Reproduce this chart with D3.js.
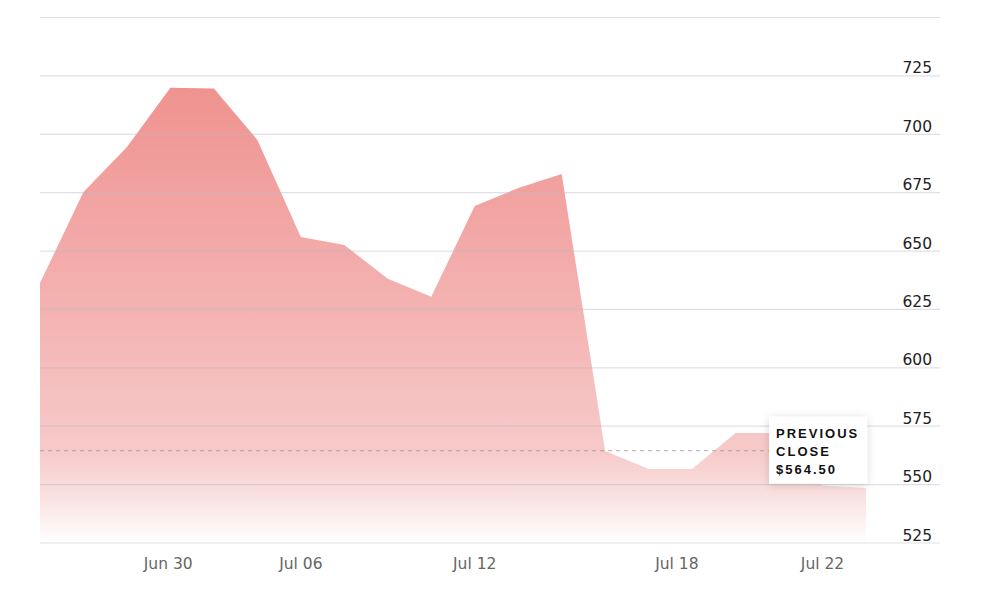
<!DOCTYPE html>
<html>
<head>
<meta charset="utf-8">
<script src="https://cdn.jsdelivr.net/npm/d3@7"></script>
<style>
  body { margin: 0; background: #fff; }
  .ylab { font-family: "DejaVu Sans", sans-serif; font-size: 15.5px; fill: #222; }
  .xlab { font-family: "DejaVu Sans", sans-serif; font-size: 15.5px; fill: #666; }
  .tip { font-family: "Liberation Sans", Arial, sans-serif; font-size: 13px; font-weight: bold; letter-spacing: 2px; fill: #111; }
</style>
</head>
<body>
<div id="chart"></div>
<script>
// closing prices, one per session
var prices = [636.3, 675.3, 694.6, 719.9, 719.6, 697.6, 656.0, 652.6, 638.1, 630.4,
              669.3, 677.0, 683.0, 564.4, 556.7, 556.7, 572.1, 572.1, 549.6, 548.6];

// x tick labels and where they sit (in session index)
var tickLabels = ["Jun 30", "Jul 06", "Jul 12", "Jul 18", "Jul 22"];
var tickIndex = [2.95, 6, 10, 14.65, 18];

// y gridlines / labels
var yTicks = [525, 550, 575, 600, 625, 650, 675, 700, 725, 750];
var yLabelled = [525, 550, 575, 600, 625, 650, 675, 700, 725];

var prevClose = 564.50;
var tipLines = ["PREVIOUS", "CLOSE", "$564.50"];

var W = 1000, H = 594;
var margin = {top: 17.5, right: 134, bottom: 51, left: 40};

var svg = d3.select("#chart").append("svg")
    .attr("width", W)
    .attr("height", H);

var xScale = d3.scaleLinear()
    .domain([0, prices.length - 1])
    .range([margin.left, W - margin.right]);

var yScale = d3.scaleLinear()
    .domain([525, 750])
    .range([H - margin.bottom, margin.top]);

var gridRight = 940;

// gradient for the area
var defs = svg.append("defs");
var grad = defs.append("linearGradient")
    .attr("id", "fillGrad")
    .attr("gradientUnits", "userSpaceOnUse")
    .attr("x1", 0).attr("x2", 0)
    .attr("y1", yScale(d3.max(prices)))
    .attr("y2", yScale(525));
grad.append("stop").attr("offset", "0%").attr("stop-color", "#ef9390");
grad.append("stop").attr("offset", "45%").attr("stop-color", "#f3b0af");
grad.append("stop").attr("offset", "80%").attr("stop-color", "#f7caca");
grad.append("stop").attr("offset", "88%").attr("stop-color", "#f9dcdc");
grad.append("stop").attr("offset", "100%").attr("stop-color", "#ffffff");

var shadow = defs.append("filter")
    .attr("id", "shadow")
    .attr("x", "-30%").attr("y", "-30%")
    .attr("width", "160%").attr("height", "160%");
shadow.append("feDropShadow")
    .attr("dx", 0).attr("dy", 1)
    .attr("stdDeviation", 4)
    .attr("flood-color", "#000")
    .attr("flood-opacity", 0.15);

// area
var area = d3.area()
    .x(function(d, i) { return xScale(i); })
    .y0(yScale(525))
    .y1(function(d) { return yScale(d); });

svg.append("path")
    .datum(prices)
    .attr("fill", "url(#fillGrad)")
    .attr("d", area);

// gridlines (drawn over the area)
svg.append("g")
  .selectAll("line")
  .data(yTicks)
  .enter().append("line")
    .attr("x1", margin.left)
    .attr("x2", gridRight)
    .attr("y1", function(d) { return yScale(d); })
    .attr("y2", function(d) { return yScale(d); })
    .attr("stroke", "#b8b8cc")
    .attr("stroke-opacity", 0.45)
    .attr("stroke-width", 1.2);

// y labels
svg.append("g")
  .selectAll("text")
  .data(yLabelled)
  .enter().append("text")
    .attr("class", "ylab")
    .attr("x", 932)
    .attr("y", function(d) { return yScale(d) - 2.5; })
    .attr("text-anchor", "end")
    .text(function(d) { return d; });

// x labels
svg.append("g")
  .selectAll("text")
  .data(tickLabels)
  .enter().append("text")
    .attr("class", "xlab")
    .attr("x", function(d, i) { return xScale(tickIndex[i]); })
    .attr("y", 569)
    .attr("text-anchor", "middle")
    .text(function(d) { return d; });

// previous close line
var tipLeft = xScale(17) - 10;
svg.append("line")
    .attr("x1", margin.left)
    .attr("x2", tipLeft)
    .attr("y1", yScale(prevClose))
    .attr("y2", yScale(prevClose))
    .attr("stroke", "#999")
    .attr("stroke-opacity", 0.8)
    .attr("stroke-dasharray", "4,4");

// tooltip box
var tip = svg.append("g")
    .attr("transform", "translate(" + tipLeft + "," + (yScale(prevClose) - 34) + ")");
tip.append("rect")
    .attr("width", 98)
    .attr("height", 67)
    .attr("fill", "#fff")
    .attr("filter", "url(#shadow)");
tip.selectAll("text")
  .data(tipLines)
  .enter().append("text")
    .attr("class", "tip")
    .attr("x", 7)
    .attr("y", function(d, i) { return 21 + i * 18; })
    .text(function(d) { return d; });
</script>
</body>
</html>
